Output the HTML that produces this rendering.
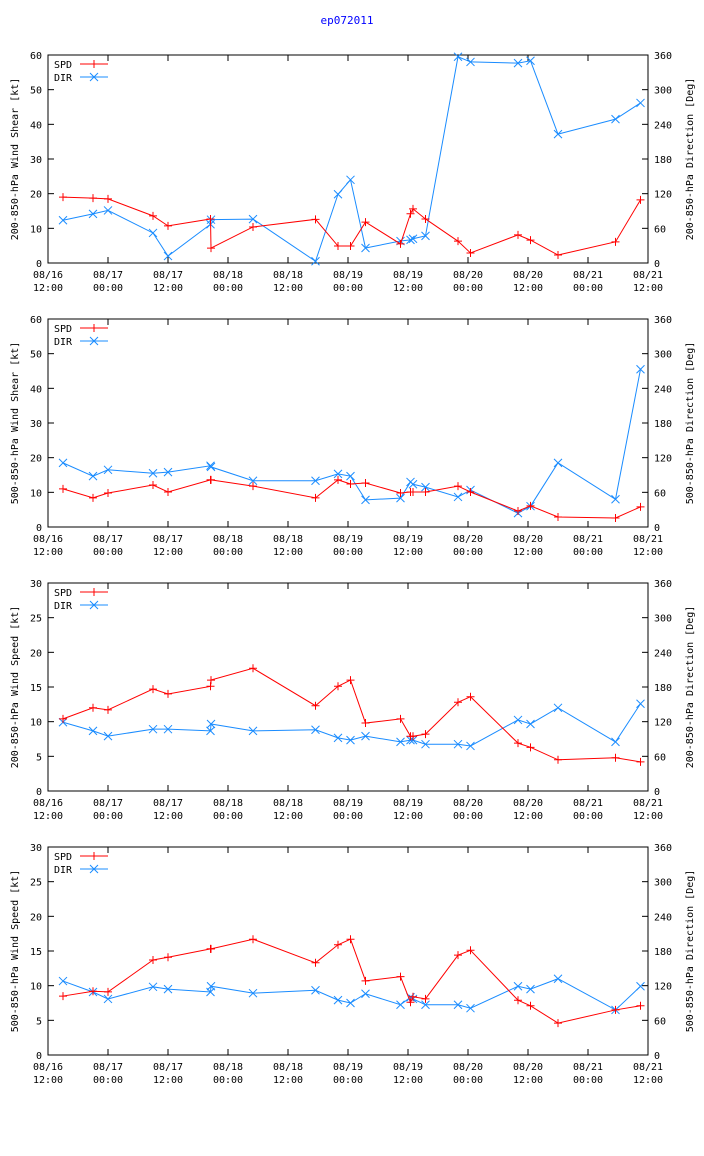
<!DOCTYPE html>
<html><head><meta charset="utf-8">
<style>
html,body{margin:0;padding:0;background:#fff;}
svg{display:block;font-family:"DejaVu Sans Mono","Liberation Mono",monospace;font-size:10px;}
</style></head>
<body>
<svg id="chart" width="704" height="1156" viewBox="0 0 704 1156" xmlns="http://www.w3.org/2000/svg">
<text x="347" y="24" text-anchor="middle" fill="#0000ff" font-size="11">ep072011</text>
</svg>
<script>
// shared observation times (hours after 08/16 12:00)
const times = [3,9,12,21,24,32.5,32.6,41,53.5,58,60.5,63.5,70.5,72.5,73,75.5,82,84.5,94,96.5,102,113.5,118.5];
const xTickLabels1 = ["08/16","08/17","08/17","08/18","08/18","08/19","08/19","08/20","08/20","08/21","08/21"];
const xTickLabels2 = ["12:00","00:00","12:00","00:00","12:00","00:00","12:00","00:00","12:00","00:00","12:00"];
const dirTicks = [0,60,120,180,240,300,360];
const spdTicks1 = [0,10,20,30,40,50,60];
const spdTicks2 = [0,5,10,15,20,25,30];
const spd1 = [19,18.7,18.5,13.6,10.7,12.7,4.3,10.4,12.6,4.9,4.9,11.8,5.5,14.2,15.6,12.7,6.3,2.9,8.1,6.6,2.3,6.1,18.2];
const dir1 = [74,85,91,52,12,67,75,76,3,119,144,26,38,40,42,47,357,348,346,350,223,249,277];
const spd2 = [11.0,8.4,9.8,12.1,10.1,13.6,13.6,11.8,8.4,13.6,12.4,12.7,9.8,10.1,10.1,10.1,11.8,10.1,4.6,6.1,2.9,2.6,5.8];
const dir2 = [111,88,99,93,95,106,104,80,80,92,88,47,50,78,74,69,52,64,24,36,111,48,273];
const spd3 = [10.4,12.0,11.7,14.7,14.0,15.1,16.0,17.7,12.3,15.1,16.0,9.8,10.4,7.9,7.9,8.2,12.8,13.6,6.9,6.3,4.5,4.8,4.2];
const dir3 = [119,104,95,107,107,104,116,104,106,92,88,95,85,88,88,81,81,78,123,116,144,85,151];
const spd4 = [8.5,9.2,9.1,13.7,14.1,15.3,15.3,16.7,13.3,15.9,16.7,10.7,11.3,7.6,8.4,8.1,14.4,15.1,7.9,7.1,4.6,6.5,7.1];
const dir4 = [128,109,97,118,114,109,119,107,112,95,90,106,87,100,97,87,87,81,119,114,132,78,119];

const panels = [
 {top:55, spd:spd1, dir:dir1, ymax:60, ticks:spdTicks1, ylab:"200-850-hPa Wind Shear [kt]", rlab:"200-850-hPa Direction [Deg]"},
 {top:319, spd:spd2, dir:dir2, ymax:60, ticks:spdTicks1, ylab:"500-850-hPa Wind Shear [kt]", rlab:"500-850-hPa Direction [Deg]"},
 {top:583, spd:spd3, dir:dir3, ymax:30, ticks:spdTicks2, ylab:"200-850-hPa Wind Speed [kt]", rlab:"200-850-hPa Direction [Deg]"},
 {top:847, spd:spd4, dir:dir4, ymax:30, ticks:spdTicks2, ylab:"500-850-hPa Wind Speed [kt]", rlab:"500-850-hPa Direction [Deg]"}
];
const svg = document.getElementById('chart');
const NS = "http://www.w3.org/2000/svg";
const L = 48, R = 648, H = 208, RED = "#ff0000", BLUE = "#1a8cff";
function mk(tag, attrs, parent) {
  const e = document.createElementNS(NS, tag);
  for (const k in attrs) e.setAttribute(k, attrs[k]);
  (parent || svg).appendChild(e);
  return e;
}
const xs = h => L + h * 5;

panels.forEach((p, pi) => {
  const g = mk('g', {});
  
  
  const B = p.top + H;
  const ys = v => B - v / p.ymax * H;
  const yd = v => B - v / 360 * H;
  const frame = mk('rect', {x:L, y:p.top, width:R-L, height:H, fill:'none', stroke:'#000', 'stroke-width':1}, g);
  
  
  // left ticks
  p.ticks.forEach(v => {
    const y = ys(v);
    mk('line', {x1:L, x2:L+6, y1:y, y2:y, stroke:'#000'}, g);
    const t = mk('text', {x:L-6, y:y+4, 'text-anchor':'end'}, g);
    t.textContent = v;
    
    
  });
  dirTicks.forEach(v => {
    const y = yd(v);
    mk('line', {x1:R-6, x2:R, y1:y, y2:y, stroke:'#000'}, g);
    const t = mk('text', {x:R+6, y:y+4, 'text-anchor':'start'}, g);
    t.textContent = v;
    
    
  });
  xTickLabels1.forEach((lab, i) => {
    const x = xs(i * 12);
    mk('line', {x1:x, x2:x, y1:B, y2:B-6, stroke:'#000'}, g);
    mk('line', {x1:x, x2:x, y1:p.top, y2:p.top+6, stroke:'#000'}, g);
    const t = mk('text', {x:x, y:B+15, 'text-anchor':'middle'}, g);
    t.textContent = lab;
    
    
    const t2 = mk('text', {x:x, y:B+28, 'text-anchor':'middle'}, g);
    t2.textContent = xTickLabels2[i];
    
    
  });
  const yl = mk('text', {x:0, y:0, 'text-anchor':'middle', transform:`translate(18,${p.top+H/2}) rotate(-90)`}, g);
  yl.textContent = p.ylab;
  
  
  const rl = mk('text', {x:0, y:0, 'text-anchor':'middle', transform:`translate(693,${p.top+H/2}) rotate(-90)`}, g);
  rl.textContent = p.rlab;
  
  
  // series
  const spdPts = times.map((t, i) => [xs(t), ys(p.spd[i])]);
  const dirPts = times.map((t, i) => [xs(t), yd(p.dir[i])]);
  const dl = mk('polyline', {points:dirPts.map(q => q.join(',')).join(' '), fill:'none', stroke:BLUE, 'stroke-width':1}, g);
  
  
  dirPts.forEach(q => {
    const m = mk('path', {d:`M${q[0]-4},${q[1]-4}L${q[0]+4},${q[1]+4}M${q[0]-4},${q[1]+4}L${q[0]+4},${q[1]-4}`, stroke:BLUE, fill:'none'}, g);
    
    
  });
  const sl = mk('polyline', {points:spdPts.map(q => q.join(',')).join(' '), fill:'none', stroke:RED, 'stroke-width':1}, g);
  
  
  spdPts.forEach(q => {
    const m = mk('path', {d:`M${q[0]-4},${q[1]}L${q[0]+4},${q[1]}M${q[0]},${q[1]-4}L${q[0]},${q[1]+4}`, stroke:RED, fill:'none'}, g);
    
    
  });
  // legend
  const lg = mk('g', {}, g);
  
  
  [["SPD", RED, 'p'], ["DIR", BLUE, 'x']].forEach((e, i) => {
    const y = p.top + 9 + i * 13;
    const t = mk('text', {x:54, y:y+4}, lg);
    t.textContent = e[0];
    
    
    mk('line', {x1:80, x2:108, y1:y, y2:y, stroke:e[1]}, lg);
    const c = 94;
    mk('path', {d: e[2] === 'p' ? `M${c-4},${y}L${c+4},${y}M${c},${y-4}L${c},${y+4}` : `M${c-4},${y-4}L${c+4},${y+4}M${c-4},${y+4}L${c+4},${y-4}`, stroke:e[1], fill:'none'}, lg);
  });
});
</script>
</body></html>
